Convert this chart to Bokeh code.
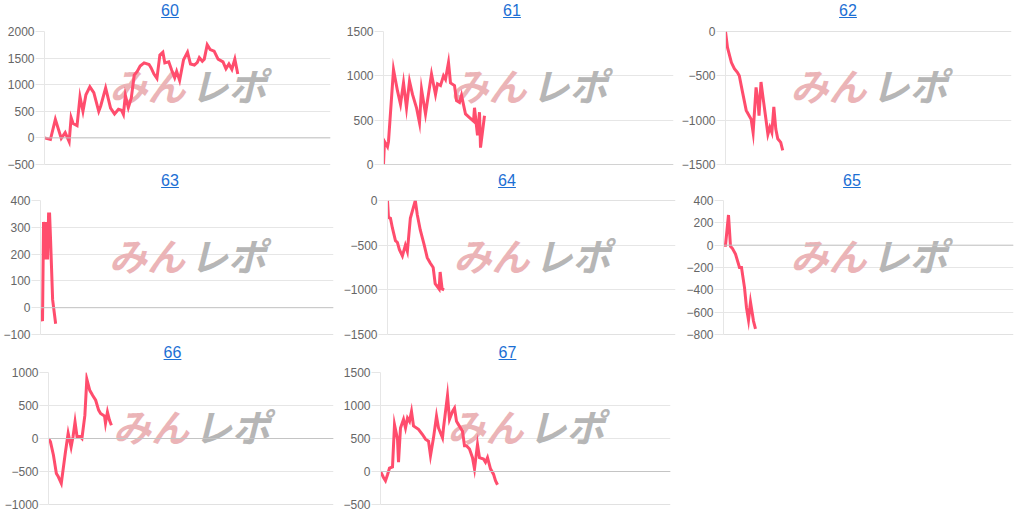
from bokeh.plotting import figure
from bokeh.models import Range1d, Span, Label, Div, BasicTickFormatter
from bokeh.layouts import column, row
from bokeh.embed import file_html
from bokeh.resources import INLINE

# ---------------- data ----------------
titles = ["60", "61", "62", "63", "64", "65", "66", "67"]

x60 = [0, 6, 11, 17, 21, 25, 27, 29, 33, 36, 39, 42, 46, 50, 55, 57, 62, 67, 71, 75,
       78, 80, 82, 85, 88, 91, 94, 97, 101, 106, 108, 111, 114, 117, 120, 122, 126, 129, 132, 134,
       137, 141, 145, 148, 152, 155, 157, 160, 162, 165, 168, 172, 176, 181, 184, 187, 190, 193, 196]
y60 = [0, -30, 350, -10, 100, -70, 380, 270, 230, 770, 500, 810, 960, 850, 500, 600, 940, 560, 450, 540,
       520, 440, 800, 570, 750, 1180, 1250, 1350, 1410, 1380, 1320, 1200, 1120, 1560, 1610, 1410, 1430, 1270, 1130, 1250,
       1080, 1470, 1610, 1390, 1370, 1420, 1510, 1440, 1480, 1750, 1660, 1630, 1480, 1430, 1300, 1390, 1290, 1480, 1200]

x61 = [0, 1, 4, 5, 10, 14, 17, 20, 23, 26, 29, 33, 36, 38, 42, 48, 52, 54, 57, 60,
       62, 65, 67, 71, 73, 76, 78, 82, 86, 90, 91, 94, 96, 97, 101]
y61 = [0, 260, 200, 260, 1070, 830, 680, 920, 640, 940, 790, 640, 470, 850, 570, 1020, 790, 910, 890, 1000,
       960, 1150, 920, 890, 720, 700, 780, 570, 530, 490, 640, 330, 590, 190, 550]

x62 = [0, 2, 6, 9, 12, 14, 17, 21, 24, 26, 28, 31, 33, 34, 36, 38, 41, 43, 45, 47, 49, 51, 53, 56, 58]
y62 = [0, -180, -350, -420, -460, -500, -670, -890, -950, -990, -1140, -630, -800, -950, -570, -740, -990,
       -1160, -1080, -1140, -850, -1100, -1210, -1250, -1340]

x63 = [0, 2, 3, 5, 6, 7, 8, 9, 10, 12, 15]
y63 = [-10, -50, 320, 180, 320, 180, 350, 350, 250, 30, -60]

x64 = [0, 1, 3, 5, 8, 10, 12, 15, 18, 20, 23, 28, 30, 33, 37, 40, 43, 46, 48, 52, 53, 55, 57]
y64 = [0, -190, -200, -310, -450, -470, -550, -620, -500, -570, -200, 0, -160, -330, -500, -640, -700,
       -750, -930, -990, -800, -990, -1000]

x65 = [0, 2, 5, 7, 9, 12, 16, 18, 21, 23, 25, 27, 30, 32]
y65 = [0, 0, 270, -10, -30, -80, -200, -200, -380, -560, -670, -510, -680, -750]

x66 = [0, 2, 5, 8, 10, 13, 17, 20, 23, 25, 27, 29, 32, 34, 37, 39, 42, 45, 48, 51, 53, 57, 58, 60, 62, 64]
y66 = [0, -50, -250, -530, -580, -680, -230, 80, -130, 30, 250, 30, 30, 0, 350, 900, 730, 650, 580, 430,
       380, 340, 230, 400, 280, 200]

x67 = [0, 3, 5, 7, 9, 12, 14, 17, 18, 20, 23, 25, 27, 29, 31, 33, 38, 42, 45, 48,
       50, 53, 56, 58, 62, 63, 67, 69, 72, 74, 76, 78, 82, 84, 86, 89, 92, 94, 97, 99,
       103, 105, 107, 110, 113, 115, 117]
y67 = [0, -90, -140, -50, 50, 70, 710, 490, 140, 660, 790, 660, 810, 760, 910, 690, 640, 560, 490, 460,
       240, 510, 840, 660, 510, 660, 1150, 790, 910, 960, 760, 710, 610, 390, 390, 340, 210, 40, 410, 210,
       190, 140, 210, 40, -40, -140, -200]

ticks60 = [-500, 0, 500, 1000, 1500, 2000]
ticks61 = [0, 500, 1000, 1500]
ticks62 = [-1500, -1000, -500, 0]
ticks63 = [-100, 0, 100, 200, 300, 400]
ticks64 = [-1500, -1000, -500, 0]
ticks65 = [-800, -600, -400, -200, 0, 200, 400]
ticks66 = [-1000, -500, 0, 500, 1000]
ticks67 = [-500, 0, 500, 1000, 1500]

X_MAX = 290

# ---------------- styling ----------------
LINE_COLOR = "#ff4d6d"
GRID = "#e6e6e6"
DARK = "#c4c4c4"
TITLE_COLOR = "#1c6fd4"
FONT = "Liberation Sans"


def make_fig(xs, ys, ticks, bl, fw, br, bt, fh, bb):
    p = figure(frame_width=fw, frame_height=fh,
               x_range=Range1d(0, X_MAX), y_range=Range1d(ticks[0], ticks[-1]),
               output_backend="svg", toolbar_location=None, x_axis_location=None,
               min_border_left=bl, min_border_right=br, min_border_top=bt, min_border_bottom=bb)
    p.outline_line_color = None
    p.xgrid.visible = False
    p.yaxis.ticker = ticks
    p.yaxis.formatter = BasicTickFormatter(use_scientific=False)
    p.yaxis.major_label_text_font = FONT
    p.yaxis.major_label_text_font_size = "12px"
    p.yaxis.major_label_text_color = "#666666"
    p.yaxis.major_label_standoff = 1
    p.yaxis.major_tick_out = 9
    p.yaxis.major_tick_in = 0
    p.yaxis.major_tick_line_color = GRID
    p.yaxis.minor_tick_line_color = None
    p.yaxis.axis_line_color = GRID
    p.ygrid.grid_line_color = GRID

    p.add_layout(Span(location=0, dimension="width", line_color=DARK, line_width=1))
    p.add_layout(Span(location=ticks[0], dimension="width", line_color=DARK, line_width=1))

    ymid = ticks[0] + 0.60 * (ticks[-1] - ticks[0])
    for txt, col, align, off in (("みん", "#ebb4b7", "right", -2), ("レポ", "#b6b6b6", "left", 3)):
        p.add_layout(Label(x=X_MAX / 2, y=ymid, x_offset=off, text=txt, text_align=align,
                           text_baseline="middle", text_font="Noto Sans CJK JP",
                           text_font_style="bold italic", text_font_size="38px",
                           text_color=col, level="underlay"))

    p.line(xs, ys, line_color=LINE_COLOR, line_width=3, line_join="miter")
    return p


def make_title(text, width, height, pad_left, pad_top):
    html = ('<div style="width:%dpx;height:%dpx;padding-left:%.1fpx;padding-top:%dpx;'
            'box-sizing:border-box;font-family:\'Liberation Sans\',Arial,sans-serif;font-size:16px;'
            'line-height:16px;color:%s;white-space:nowrap;">'
            '<span style="text-decoration:underline;">%s</span></div>') % (
        width, height, pad_left, pad_top, TITLE_COLOR, text)
    return Div(text=html, width=width, height=height, margin=0)


# per-row: title div height / top padding, figure border top, frame height, border bottom
# per panel: (title, xs, ys, ticks, border_left, frame_width, border_right, title_center_x)
rows_spec = [
    dict(dh=20, dpad=3, bt=11, fh=133, bb=9, panels=[
        (titles[0], x60, y60, ticks60, 44, 286, 10, 170),
        (titles[1], x61, y61, ticks61, 43, 290, 5, 512),
        (titles[2], x62, y62, ticks62, 45, 286, 8, 848)]),
    dict(dh=16, dpad=0, bt=11, fh=134, bb=11, panels=[
        (titles[3], x63, y63, ticks63, 40, 293, 7, 170),
        (titles[4], x64, y64, ticks64, 42, 288, 5, 507),
        (titles[5], x65, y65, ticks65, 43, 290, 9, 847)]),
    dict(dh=16, dpad=0, bt=11, fh=132, bb=9, panels=[
        (titles[6], x66, y66, ticks66, 48, 285, 7, 172.5),
        (titles[7], x67, y67, ticks67, 38, 290, 10, 507.5)]),
]

row_layouts = []
for spec in rows_spec:
    cells = []
    left = 0
    for (t, xs, ys, ticks, bl, fw, br, cx) in spec["panels"]:
        w = bl + fw + br
        half = len(t) * 0.556 * 16 / 2
        d = make_title(t, w, spec["dh"], cx - left - half, spec["dpad"])
        f = make_fig(xs, ys, ticks, bl, fw, br, spec["bt"], spec["fh"], spec["bb"])
        cells.append(column(d, f, spacing=0, margin=0))
        left += w
    row_layouts.append(row(*cells, spacing=0, margin=0))

layout = column(*row_layouts, spacing=0, margin=0)

open("out.html", "w").write(file_html(layout, INLINE))
